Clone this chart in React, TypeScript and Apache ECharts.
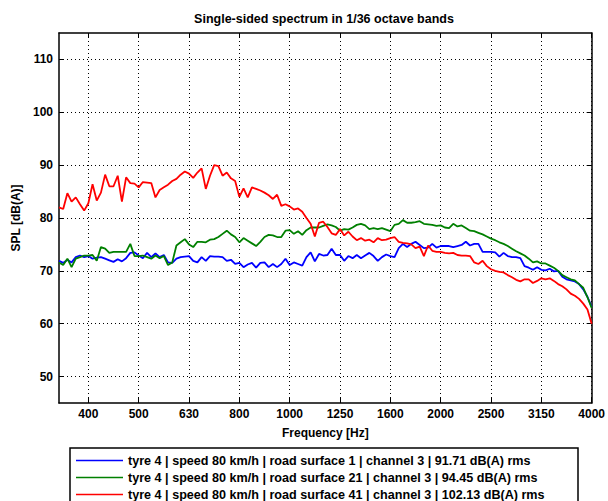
import React, { useEffect, useRef } from 'react';
import * as echarts from 'echarts';

// 1/36-octave band index relative to 400 Hz (0 = 400 Hz, 120 = 4000 Hz)
const FIRST_BAND = -7;
const LAST_BAND = 120;

const tickBands = [0, 12, 24, 36, 48, 60, 72, 84, 96, 108, 120];
const tickLabels = ['400', '500', '630', '800', '1000', '1250', '1600', '2000', '2500', '3150', '4000'];
const yTicks = [50, 60, 70, 80, 90, 100, 110];

const seriesNames = [
  'tyre 4 | speed 80 km/h | road surface 1 | channel 3 | 91.71 dB(A) rms',
  'tyre 4 | speed 80 km/h | road surface 21 | channel 3 | 94.45 dB(A) rms',
  'tyre 4 | speed 80 km/h | road surface 41 | channel 3 | 102.13 dB(A) rms',
];
const seriesColors = ['#0000ff', '#008000', '#ff0000'];

// values for bands -7 .. 120
const blue = [
  71.9, 71.5, 72.1, 71.6, 72.6, 72.9, 72.6,
  72.8, 72.3, 72.5, 72.6, 72.3, 72.0, 71.7, 72.2, 71.8, 72.4, 73.4, 73.5,
  72.9, 72.4, 73.4, 72.6, 73.3, 72.6, 73.0, 71.6, 71.5, 72.3, 72.6, 72.7,
  72.8, 71.9, 71.6, 72.6, 71.9, 72.8, 72.7, 72.7, 72.6, 71.9, 72.1, 71.3,
  71.5, 70.7, 71.2, 71.5, 70.6, 71.5, 71.6, 70.7, 71.3, 70.7, 71.3, 72.3,
  71.1, 71.6, 71.3, 71.0, 72.6, 73.5, 71.8, 73.2, 72.9, 73.0, 74.2, 73.0,
  73.0, 71.9, 72.8, 72.4, 73.0, 72.4, 72.9, 73.4, 72.8, 71.9, 72.6, 73.1,
  72.8, 72.6, 74.3, 75.1, 74.5, 75.1, 75.5, 74.9, 74.3, 74.4, 75.1, 74.4,
  74.7, 74.7, 74.7, 74.5, 74.7, 74.9, 75.5, 74.8, 75.1, 75.1, 73.6, 73.6,
  73.6, 73.5, 72.7, 73.4, 72.8, 72.6, 72.6, 72.4, 70.9, 70.6, 70.2, 70.7,
  70.2, 70.1, 70.4, 69.9, 70.0, 68.9, 68.4, 68.2, 68.0, 67.5, 66.5, 65.1,
  63.2,
];

const green = [
  71.6, 71.1, 72.3, 70.7, 72.3, 72.6, 72.9,
  72.9, 73.0, 71.9, 74.5, 74.2, 73.4, 73.6, 73.6, 73.6, 73.6, 75.1, 72.8,
  72.8, 72.9, 72.6, 72.3, 72.9, 72.4, 72.8, 71.1, 71.6, 74.8, 75.4, 76.0,
  75.0, 74.5, 75.5, 75.5, 75.4, 75.9, 76.0, 76.4, 77.0, 77.6, 76.9, 76.4,
  75.4, 76.2, 75.7, 75.2, 74.7, 75.5, 76.4, 76.8, 76.7, 76.4, 76.4, 77.6,
  77.7, 77.0, 77.5, 76.8, 77.7, 78.2, 78.2, 78.2, 78.5, 78.8, 78.6, 78.3,
  77.6, 77.9, 77.8, 78.2, 78.7, 78.9, 78.6, 77.9, 78.1, 77.9, 78.1, 77.8,
  77.5, 78.7, 78.9, 79.6, 79.1, 79.1, 79.2, 79.4, 78.9, 78.8, 78.7, 78.5,
  78.6, 78.2, 78.1, 78.9, 78.4, 78.6, 78.1, 77.6, 77.5, 77.2, 76.9, 76.5,
  76.1, 75.8, 75.4, 75.1, 74.7, 74.2, 73.7, 73.3, 72.9, 72.3, 71.6, 71.8,
  71.4, 71.4, 71.0, 70.6, 70.0, 69.2, 68.8, 68.4, 68.2, 67.5, 66.8, 65.0,
  63.0,
];

const red = [
  82.0, 81.7, 84.7, 83.1, 83.9, 82.6, 81.4,
  82.8, 86.4, 83.3, 84.8, 88.2, 86.0, 86.0, 88.0, 83.1, 87.7, 86.6, 86.5,
  85.8, 86.8, 86.7, 86.6, 83.9, 85.3, 85.8, 86.3, 87.0, 87.4, 88.2, 88.8,
  88.4, 87.6, 88.6, 89.4, 85.5, 88.0, 90.0, 89.8, 88.0, 88.6, 87.5, 87.0,
  84.0, 85.6, 83.9, 85.8, 85.5, 85.2, 84.8, 84.3, 83.6, 84.4, 82.3, 82.6,
  82.2, 81.6, 81.8, 81.2, 80.0, 78.9, 76.5, 79.1, 79.3, 78.3, 77.1, 76.8,
  77.9, 76.7, 77.4, 76.5, 75.8, 76.2, 75.7, 75.9, 75.4, 76.2, 75.8, 75.9,
  76.2, 76.4, 75.5, 75.3, 75.2, 75.0, 74.3, 74.6, 72.8, 74.8, 73.8, 73.6,
  73.6, 73.4, 73.3, 73.4, 73.0, 72.9, 72.9, 72.8, 71.6, 71.3, 71.9, 70.9,
  70.3, 70.0, 69.8, 69.7, 69.2, 68.8, 68.3, 68.0, 68.4, 68.4, 67.7, 68.1,
  68.6, 68.4, 68.6, 68.1, 67.5, 67.1, 66.5, 65.7, 65.3, 64.7, 63.8, 62.7,
  60.0,
];

const FONT = "'Liberation Sans', Arial, Helvetica, sans-serif";

export default function App() {
  const ref = useRef<HTMLDivElement>(null);
  useEffect(() => {
    document.body.style.margin = '0';
    if (!ref.current) return;
    const chart = echarts.init(ref.current, undefined, { renderer: 'svg' });
    const toData = (vals: number[]) => vals.map((v, i) => [FIRST_BAND + i, v]);
    const allSeries = [blue, green, red];

    const baseX = { type: 'value' as const, min: FIRST_BAND, max: LAST_BAND };
    const baseY = { type: 'value' as const, min: 45, max: 115 };
    const axisFont = { fontFamily: FONT, fontSize: 12, fontWeight: 'bold' as const, color: '#000' };

    const option: any = {
      animation: false,
      backgroundColor: '#fff',
      title: {
        text: 'Single-sided spectrum in 1/36 octave bands',
        left: 319,
        top: 7,
        textAlign: 'center',
        textStyle: { fontFamily: FONT, fontSize: 12.5, fontWeight: 'bold', color: '#000' },
      },
      grid: { left: 59, right: 14, top: 33, bottom: 98, containLabel: false },
      legend: {
        orient: 'vertical',
        left: 76,
        top: 454,
        icon: 'rect',
        itemWidth: 47,
        itemHeight: 1.6,
        itemGap: 4,
        padding: 0,
        textStyle: { fontFamily: FONT, fontSize: 12.6, fontWeight: 'bold', color: '#000' },
        data: seriesNames,
      },
      graphic: [
        {
          type: 'rect',
          shape: { x: 70, y: 448, width: 508, height: 60 },
          style: { fill: 'none', stroke: '#000', lineWidth: 1.5 },
          silent: true,
        },
      ],
      xAxis: [
        {
          ...baseX,
          position: 'bottom',
          name: 'Frequency [Hz]',
          nameLocation: 'middle',
          nameGap: 24,
          nameTextStyle: axisFont,
          axisLine: { show: true, onZero: false, lineStyle: { color: '#000', width: 1.5 } },
          axisTick: { show: true, inside: true, length: 5, customValues: tickBands, lineStyle: { color: '#000' } },
          axisLabel: {
            show: true,
            customValues: tickBands,
            margin: 5,
            ...axisFont,
            formatter: (v: number) => tickLabels[tickBands.indexOf(Math.round(v))] ?? '',
          },
          splitLine: { show: true, lineStyle: { color: '#000', type: [1, 3], width: 1 } },
        },
        {
          ...baseX,
          position: 'top',
          axisLine: { show: true, onZero: false, lineStyle: { color: '#000', width: 1.5 } },
          axisTick: { show: true, inside: true, length: 5, customValues: tickBands, lineStyle: { color: '#000' } },
          axisLabel: { show: false },
          splitLine: { show: false },
        },
      ],
      yAxis: [
        {
          ...baseY,
          position: 'left',
          name: 'SPL [dB(A)]',
          nameLocation: 'middle',
          nameGap: 25,
          nameRotate: 90,
          nameTextStyle: axisFont,
          axisLine: { show: true, onZero: false, lineStyle: { color: '#000', width: 1.5 } },
          axisTick: { show: true, inside: true, length: 5, customValues: yTicks, lineStyle: { color: '#000' } },
          axisLabel: { show: true, customValues: yTicks, margin: 6, ...axisFont },
          splitLine: { show: true, lineStyle: { color: '#000', type: [1, 3], width: 1 } },
        },
        {
          ...baseY,
          position: 'right',
          axisLine: { show: true, onZero: false, lineStyle: { color: '#000', width: 1.5 } },
          axisTick: { show: true, inside: true, length: 5, customValues: yTicks, lineStyle: { color: '#000' } },
          axisLabel: { show: false },
          splitLine: { show: false },
        },
      ],
      series: allSeries.map((vals, k) => ({
        name: seriesNames[k],
        type: 'line',
        xAxisIndex: 0,
        yAxisIndex: 0,
        data: toData(vals),
        showSymbol: false,
        symbol: 'none',
        color: seriesColors[k],
        lineStyle: { color: seriesColors[k], width: 1.8 },
        emphasis: { disabled: true },
        z: 3,
      })),
    };
    chart.setOption(option);
    return () => chart.dispose();
  }, []);
  return <div ref={ref} style={{ width: 608, height: 501 }} />;
}
